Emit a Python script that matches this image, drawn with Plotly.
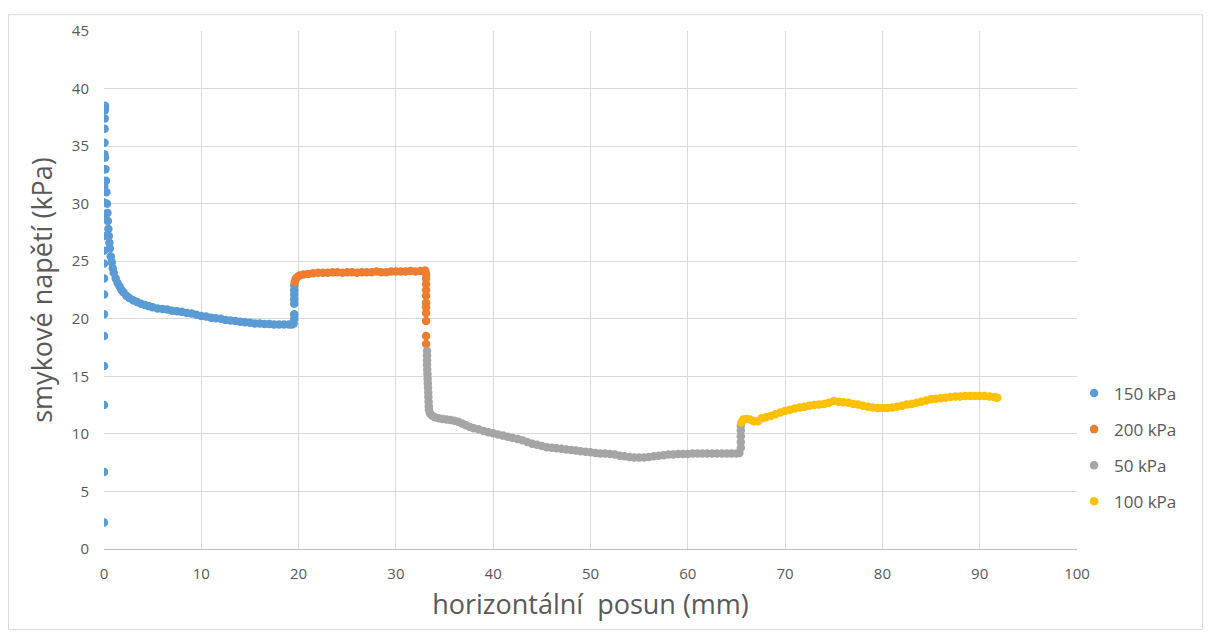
import plotly.graph_objects as go

# ---- data (x: horizontal displacement mm, y: shear stress kPa)
blue_x = [0.0, 0.0, 0.0, 0.0, 0.0, 0.0, 0.0, 0.0, 0.0, 0.0, 0.0, 0.0, 0.0, 0.02, 0.03, 0.04, 0.05, 0.06, 0.07, 0.08, 0.09, 0.1,
          0.1, 0.15, 0.2, 0.25, 0.3, 0.35, 0.4, 0.45, 0.5, 0.55, 0.6, 0.7, 0.8, 0.9, 1.0, 1.2, 1.4, 1.6, 1.8, 2.0,
          2.3, 2.6, 3.0, 3.4, 3.8, 4.2, 4.6, 5.0, 5.5, 6.0, 6.5, 7.0, 7.5, 8.0, 8.5, 9.0, 9.5, 10.0, 10.5, 11.0,
          11.5, 12.0, 12.5, 13.0, 13.5, 14.0, 14.5, 15.0, 15.5, 16.0, 16.5, 17.0, 17.5, 18.0, 18.5, 19.0, 19.3,
          19.5, 19.55, 19.55, 19.55, 19.55, 19.55, 19.55, 19.55]
blue_y = [2.3, 6.7, 12.5, 15.9, 18.5, 20.4, 22.1, 23.5, 24.8, 25.9, 27.2, 28.7, 30.1, 31.5, 33.0, 34.3, 35.3, 36.5, 37.4, 38.1, 38.3, 38.5,
          34.0, 33.0, 32.0, 31.0, 30.0, 29.2, 28.5, 27.8, 27.2, 26.6, 26.1, 25.4, 24.9, 24.4, 24.0, 23.5, 23.1, 22.8, 22.5, 22.3,
          22.0, 21.8, 21.6, 21.45, 21.3, 21.2, 21.1, 21.0, 20.9, 20.85, 20.8, 20.7, 20.65, 20.6, 20.5, 20.45, 20.35, 20.25, 20.2, 20.1,
          20.05, 20.0, 19.9, 19.85, 19.8, 19.75, 19.7, 19.65, 19.6, 19.6, 19.55, 19.55, 19.5, 19.5, 19.5, 19.5, 19.5,
          19.6, 20.0, 20.4, 21.3, 21.7, 22.1, 22.5, 22.9]

orange_x = [19.6, 19.7, 19.85, 20.1, 20.5, 21.0, 21.5, 22.0, 22.5, 23.0, 23.5, 24.0, 24.5, 25.0, 25.5, 26.0, 26.5,
            27.0, 27.5, 28.0, 28.5, 29.0, 29.5, 30.0, 30.5, 31.0, 31.5, 32.0, 32.5, 33.0,
            33.1, 33.1, 33.1, 33.1, 33.1, 33.1, 33.1, 33.1, 33.1, 33.1, 33.1]
orange_y = [23.2, 23.45, 23.6, 23.75, 23.85, 23.9, 23.95, 24.0, 24.0, 24.0, 24.05, 24.05, 24.0, 24.05, 24.05, 24.0, 24.05,
            24.05, 24.05, 24.1, 24.05, 24.05, 24.1, 24.1, 24.1, 24.1, 24.15, 24.1, 24.15, 24.2,
            23.9, 23.5, 23.0, 22.5, 22.0, 21.4, 21.0, 20.5, 19.8, 18.5, 17.8]

gray_x = [33.2, 33.2, 33.2, 33.2, 33.22, 33.24, 33.26, 33.28, 33.3, 33.32, 33.34, 33.36, 33.38, 33.4,
          33.5, 33.7, 34.0, 34.4, 34.8, 35.2, 35.6, 36.0, 36.4, 36.8, 37.2, 37.6, 38.0, 38.5, 39.0, 39.5,
          40.0, 40.5, 41.0, 41.5, 42.0, 42.5, 43.0, 43.5, 44.0, 44.5, 45.0, 45.5, 46.0, 46.5, 47.0, 47.5,
          48.0, 48.5, 49.0, 49.5, 50.0, 50.5, 51.0, 51.5, 52.0, 52.5, 53.0, 53.5, 54.0, 54.5, 55.0, 55.5,
          56.0, 56.5, 57.0, 57.5, 58.0, 58.5, 59.0, 59.5, 60.0, 60.5, 61.0, 61.5, 62.0, 62.5, 63.0, 63.5,
          64.0, 64.5, 65.0, 65.3, 65.45, 65.45, 65.45, 65.45, 65.45]
gray_y = [17.2, 16.8, 16.4, 16.0, 15.6, 15.2, 14.8, 14.4, 14.0, 13.6, 13.2, 12.8, 12.4, 12.1,
          11.8, 11.6, 11.45, 11.35, 11.3, 11.25, 11.2, 11.15, 11.05, 10.9, 10.75, 10.6, 10.5, 10.4, 10.25, 10.15,
          10.05, 9.95, 9.85, 9.75, 9.65, 9.55, 9.45, 9.3, 9.15, 9.05, 8.95, 8.85, 8.8, 8.75, 8.7, 8.65,
          8.6, 8.55, 8.5, 8.45, 8.4, 8.35, 8.3, 8.3, 8.25, 8.2, 8.1, 8.05, 8.0, 7.95, 7.95, 7.95,
          8.0, 8.05, 8.1, 8.15, 8.2, 8.2, 8.25, 8.25, 8.25, 8.3, 8.3, 8.3, 8.3, 8.3, 8.3, 8.3,
          8.3, 8.3, 8.3, 8.35, 8.8, 9.3, 9.8, 10.3, 10.7]

yellow_x = [65.5, 65.7, 66.0, 66.4, 66.8, 67.2, 67.6, 68.0, 68.5, 69.0, 69.5, 70.0, 70.5, 71.0, 71.5, 72.0,
            72.5, 73.0, 73.5, 74.0, 74.5, 75.0, 75.5, 76.0, 76.5, 77.0, 77.5, 78.0, 78.5, 79.0, 79.5, 80.0,
            80.5, 81.0, 81.5, 82.0, 82.5, 83.0, 83.5, 84.0, 84.5, 85.0, 85.5, 86.0, 86.5, 87.0, 87.5, 88.0,
            88.5, 89.0, 89.5, 90.0, 90.5, 91.0, 91.5, 91.8]
yellow_y = [11.0, 11.25, 11.3, 11.25, 11.1, 11.1, 11.35, 11.45, 11.55, 11.7, 11.85, 12.0, 12.1, 12.2, 12.3, 12.35,
            12.45, 12.5, 12.55, 12.6, 12.7, 12.85, 12.8, 12.75, 12.7, 12.6, 12.55, 12.45, 12.35, 12.3, 12.25, 12.25,
            12.25, 12.3, 12.35, 12.45, 12.55, 12.6, 12.7, 12.8, 12.9, 13.0, 13.05, 13.1, 13.15, 13.2, 13.25, 13.25,
            13.3, 13.3, 13.3, 13.3, 13.3, 13.25, 13.2, 13.15]

series_names = ["150 kPa", "200 kPa", "50 kPa", "100 kPa"]
series_colors = ["#5B9BD5", "#ED7D31", "#A5A5A5", "#FFC000"]
x_ticks = [0, 10, 20, 30, 40, 50, 60, 70, 80, 90, 100]
y_ticks = [0, 5, 10, 15, 20, 25, 30, 35, 40, 45]

FONT = "Open Sans"
TXT = "#595959"

W, H = 1195, 623          # page body has an 8px margin
L, T, PW, PH = 96, 17, 973, 524

fig = go.Figure()
for name, xs, ys, col in zip(series_names, [blue_x, orange_x, gray_x, yellow_x],
                             [blue_y, orange_y, gray_y, yellow_y], series_colors):
    fig.add_trace(go.Scatter(x=xs, y=ys, mode="markers", name=name, legendgroup=name,
                             marker=dict(color=col, size=8.5, line=dict(width=0))))

fig.update_layout(
    width=W, height=H,
    margin=dict(l=L, r=W - L - PW, t=T, b=H - T - PH),
    paper_bgcolor="white", plot_bgcolor="white",
    font=dict(family=FONT, color=TXT),
    showlegend=True,
    legend=dict(x=0.997, y=0.335, xanchor="left", yanchor="top",
                font=dict(size=17, color=TXT, family=FONT), tracegroupgap=11,
                itemsizing="trace", bgcolor="rgba(0,0,0,0)"),
    xaxis=dict(range=[0, 100], tickvals=x_ticks, showgrid=True, gridcolor="#D9D9D9", gridwidth=1,
               zeroline=False, showline=True, linecolor="#BFBFBF", linewidth=1, ticks="",
               tickfont=dict(size=15, color=TXT), ticklabelstandoff=11,
               title=dict(text="horizontální  posun (mm)", font=dict(size=27, color=TXT), standoff=13)),
    yaxis=dict(range=[0, 45], tickvals=y_ticks, showgrid=True, gridcolor="#D9D9D9", gridwidth=1,
               zeroline=False, showline=False, ticks="",
               tickfont=dict(size=15, color=TXT), ticklabelstandoff=14,
               title=dict(text="smykové napětí (kPa)", font=dict(size=27, color=TXT), standoff=11)),
)

# chart-area border
fig.add_shape(type="rect", xref="paper", yref="paper",
              x0=(0.5 - L) / PW, x1=(W - 0.5 - L) / PW,
              y0=-(H - T - PH - 0.5) / PH, y1=1 + (T - 0.5) / PH,
              line=dict(color="#D9D9D9", width=1), fillcolor="rgba(0,0,0,0)", layer="below")

fig.write_html("out.html")
